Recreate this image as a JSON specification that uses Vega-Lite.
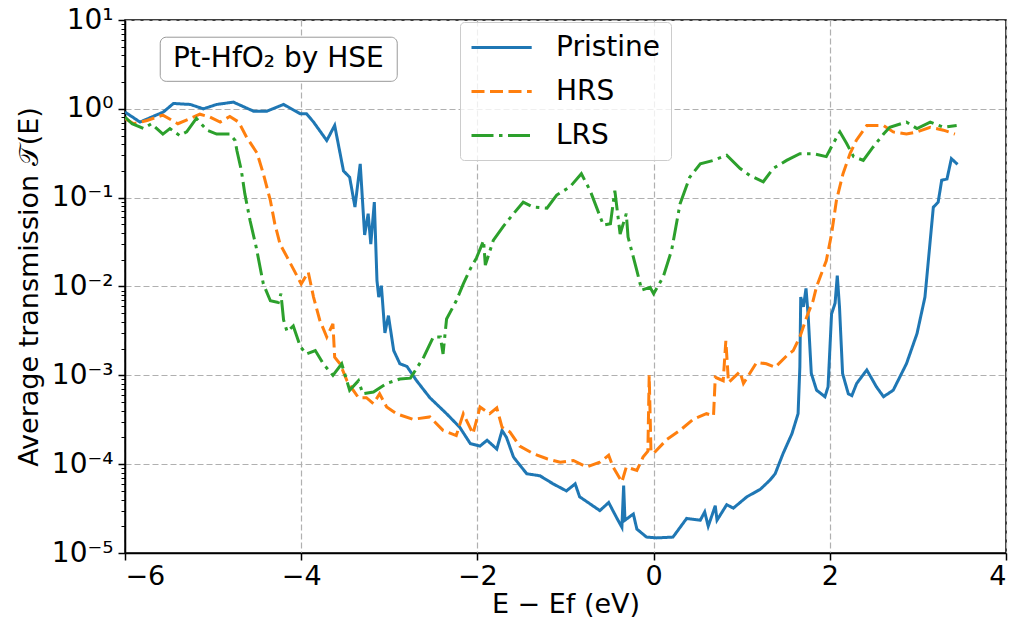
{
"$schema": "https://vega.github.io/schema/vega-lite/v6.json",
"width": 881, "height": 533,
"autosize": "none",
"padding": {"left": 125, "top": 20, "right": 8, "bottom": 74},
"background": "white",
"config": {"font": "DejaVu Sans", "view": {"stroke": "black", "strokeWidth": 1.5}},
"layer": [
{
"data": {"values": [
{"s":"Pristine","x":-6.0,"t":0.92},{"s":"Pristine","x":-5.83,"t":0.71},{"s":"Pristine","x":-5.565,"t":0.92},{"s":"Pristine","x":-5.45,"t":1.15},{"s":"Pristine","x":-5.26,"t":1.12},{"s":"Pristine","x":-5.11,"t":1.0},{"s":"Pristine","x":-4.96,"t":1.12},{"s":"Pristine","x":-4.77,"t":1.19},{"s":"Pristine","x":-4.54,"t":0.94},{"s":"Pristine","x":-4.39,"t":0.94},{"s":"Pristine","x":-4.2,"t":1.12},{"s":"Pristine","x":-4.01,"t":0.88},{"s":"Pristine","x":-3.94,"t":0.88},{"s":"Pristine","x":-3.86,"t":0.71},{"s":"Pristine","x":-3.71,"t":0.44},{"s":"Pristine","x":-3.62,"t":0.65},{"s":"Pristine","x":-3.52,"t":0.2},{"s":"Pristine","x":-3.45,"t":0.17},{"s":"Pristine","x":-3.39,"t":0.0785},{"s":"Pristine","x":-3.33,"t":0.24},{"s":"Pristine","x":-3.28,"t":0.038},{"s":"Pristine","x":-3.24,"t":0.066},{"s":"Pristine","x":-3.21,"t":0.03},{"s":"Pristine","x":-3.17,"t":0.089},{"s":"Pristine","x":-3.14,"t":0.0117},{"s":"Pristine","x":-3.12,"t":0.0076},{"s":"Pristine","x":-3.09,"t":0.0102},{"s":"Pristine","x":-3.05,"t":0.003},{"s":"Pristine","x":-3.01,"t":0.0047},{"s":"Pristine","x":-2.95,"t":0.0019},{"s":"Pristine","x":-2.88,"t":0.00135},{"s":"Pristine","x":-2.8,"t":0.00126},{"s":"Pristine","x":-2.69,"t":8.7e-4},{"s":"Pristine","x":-2.54,"t":5.6e-4},{"s":"Pristine","x":-2.35,"t":3.7e-4},{"s":"Pristine","x":-2.2,"t":2.6e-4},{"s":"Pristine","x":-2.08,"t":1.7e-4},{"s":"Pristine","x":-1.97,"t":1.6e-4},{"s":"Pristine","x":-1.89,"t":1.86e-4},{"s":"Pristine","x":-1.78,"t":1.48e-4},{"s":"Pristine","x":-1.72,"t":2.4e-4},{"s":"Pristine","x":-1.67,"t":2.0e-4},{"s":"Pristine","x":-1.59,"t":1.2e-4},{"s":"Pristine","x":-1.44,"t":7.8e-5},{"s":"Pristine","x":-1.29,"t":7.4e-5},{"s":"Pristine","x":-1.14,"t":6.0e-5},{"s":"Pristine","x":-0.99,"t":5.0e-5},{"s":"Pristine","x":-0.89,"t":6.0e-5},{"s":"Pristine","x":-0.84,"t":4.3e-5},{"s":"Pristine","x":-0.61,"t":3.0e-5},{"s":"Pristine","x":-0.51,"t":3.7e-5},{"s":"Pristine","x":-0.42,"t":2.5e-5},{"s":"Pristine","x":-0.36,"t":1.95e-5},{"s":"Pristine","x":-0.34,"t":5.75e-5},{"s":"Pristine","x":-0.325,"t":2.34e-5},{"s":"Pristine","x":-0.23,"t":2.75e-5},{"s":"Pristine","x":-0.19,"t":1.86e-5},{"s":"Pristine","x":-0.08,"t":1.51e-5},{"s":"Pristine","x":0.035,"t":1.48e-5},{"s":"Pristine","x":0.22,"t":1.51e-5},{"s":"Pristine","x":0.375,"t":2.45e-5},{"s":"Pristine","x":0.53,"t":2.34e-5},{"s":"Pristine","x":0.58,"t":2.9e-5},{"s":"Pristine","x":0.62,"t":2.0e-5},{"s":"Pristine","x":0.7,"t":3.4e-5},{"s":"Pristine","x":0.72,"t":2.34e-5},{"s":"Pristine","x":0.83,"t":3.5e-5},{"s":"Pristine","x":0.905,"t":3.2e-5},{"s":"Pristine","x":1.06,"t":4.3e-5},{"s":"Pristine","x":1.21,"t":5.2e-5},{"s":"Pristine","x":1.32,"t":6.6e-5},{"s":"Pristine","x":1.38,"t":7.8e-5},{"s":"Pristine","x":1.47,"t":1.32e-4},{"s":"Pristine","x":1.57,"t":2.2e-4},{"s":"Pristine","x":1.64,"t":3.7e-4},{"s":"Pristine","x":1.66,"t":1.23e-3},{"s":"Pristine","x":1.67,"t":7.6e-3},{"s":"Pristine","x":1.7,"t":5.9e-3},{"s":"Pristine","x":1.73,"t":9.5e-3},{"s":"Pristine","x":1.755,"t":4.6e-3},{"s":"Pristine","x":1.79,"t":1.05e-3},{"s":"Pristine","x":1.85,"t":6.8e-4},{"s":"Pristine","x":1.945,"t":5.75e-4},{"s":"Pristine","x":1.98,"t":7.4e-4},{"s":"Pristine","x":2.02,"t":4.9e-3},{"s":"Pristine","x":2.06,"t":6.5e-3},{"s":"Pristine","x":2.085,"t":1.33e-2},{"s":"Pristine","x":2.11,"t":5.9e-3},{"s":"Pristine","x":2.145,"t":1.05e-3},{"s":"Pristine","x":2.21,"t":6.2e-4},{"s":"Pristine","x":2.25,"t":5.9e-4},{"s":"Pristine","x":2.305,"t":8.1e-4},{"s":"Pristine","x":2.42,"t":1.15e-3},{"s":"Pristine","x":2.53,"t":7.4e-4},{"s":"Pristine","x":2.61,"t":5.75e-4},{"s":"Pristine","x":2.72,"t":6.8e-4},{"s":"Pristine","x":2.87,"t":1.35e-3},{"s":"Pristine","x":2.99,"t":2.95e-3},{"s":"Pristine","x":3.08,"t":7.6e-3},{"s":"Pristine","x":3.14,"t":3.3e-2},{"s":"Pristine","x":3.175,"t":7.8e-2},{"s":"Pristine","x":3.23,"t":8.9e-2},{"s":"Pristine","x":3.27,"t":0.157},{"s":"Pristine","x":3.33,"t":0.162},{"s":"Pristine","x":3.38,"t":0.275},{"s":"Pristine","x":3.45,"t":0.237},
{"s":"HRS","x":-6.0,"t":0.78},{"s":"HRS","x":-5.9,"t":0.68},{"s":"HRS","x":-5.75,"t":0.74},{"s":"HRS","x":-5.57,"t":0.85},{"s":"HRS","x":-5.4,"t":0.68},{"s":"HRS","x":-5.26,"t":0.78},{"s":"HRS","x":-5.15,"t":0.87},{"s":"HRS","x":-5.04,"t":0.81},{"s":"HRS","x":-4.92,"t":0.71},{"s":"HRS","x":-4.81,"t":0.82},{"s":"HRS","x":-4.71,"t":0.71},{"s":"HRS","x":-4.62,"t":0.48},{"s":"HRS","x":-4.5,"t":0.316},{"s":"HRS","x":-4.43,"t":0.186},{"s":"HRS","x":-4.35,"t":0.093},{"s":"HRS","x":-4.3,"t":0.051},{"s":"HRS","x":-4.24,"t":0.03},{"s":"HRS","x":-4.16,"t":0.0214},{"s":"HRS","x":-4.05,"t":0.0133},{"s":"HRS","x":-4.0,"t":0.0107},{"s":"HRS","x":-3.92,"t":0.0145},{"s":"HRS","x":-3.86,"t":0.0076},{"s":"HRS","x":-3.79,"t":0.0042},{"s":"HRS","x":-3.71,"t":0.0027},{"s":"HRS","x":-3.64,"t":0.0038},{"s":"HRS","x":-3.62,"t":0.0016},{"s":"HRS","x":-3.56,"t":0.00135},{"s":"HRS","x":-3.48,"t":8.7e-4},{"s":"HRS","x":-3.41,"t":6.8e-4},{"s":"HRS","x":-3.35,"t":5.6e-4},{"s":"HRS","x":-3.26,"t":5.6e-4},{"s":"HRS","x":-3.18,"t":4.8e-4},{"s":"HRS","x":-3.11,"t":6.2e-4},{"s":"HRS","x":-3.03,"t":4.4e-4},{"s":"HRS","x":-2.92,"t":3.7e-4},{"s":"HRS","x":-2.73,"t":3.2e-4},{"s":"HRS","x":-2.54,"t":3.4e-4},{"s":"HRS","x":-2.39,"t":2.4e-4},{"s":"HRS","x":-2.24,"t":2.1e-4},{"s":"HRS","x":-2.16,"t":3.7e-4},{"s":"HRS","x":-2.05,"t":2.2e-4},{"s":"HRS","x":-1.97,"t":4.4e-4},{"s":"HRS","x":-1.86,"t":3.7e-4},{"s":"HRS","x":-1.78,"t":4.3e-4},{"s":"HRS","x":-1.72,"t":2.6e-4},{"s":"HRS","x":-1.63,"t":2.3e-4},{"s":"HRS","x":-1.52,"t":1.6e-4},{"s":"HRS","x":-1.37,"t":1.32e-4},{"s":"HRS","x":-1.21,"t":1.15e-4},{"s":"HRS","x":-1.06,"t":1.05e-4},{"s":"HRS","x":-0.91,"t":1.1e-4},{"s":"HRS","x":-0.76,"t":9.3e-5},{"s":"HRS","x":-0.61,"t":1.05e-4},{"s":"HRS","x":-0.51,"t":1.26e-4},{"s":"HRS","x":-0.46,"t":9.3e-5},{"s":"HRS","x":-0.36,"t":6.3e-5},{"s":"HRS","x":-0.31,"t":9.3e-5},{"s":"HRS","x":-0.19,"t":8.5e-5},{"s":"HRS","x":-0.12,"t":1.2e-4},{"s":"HRS","x":-0.065,"t":1.4e-4},{"s":"HRS","x":-0.05,"t":1.0e-3},{"s":"HRS","x":-0.03,"t":1.4e-4},{"s":"HRS","x":0.0,"t":1.32e-4},{"s":"HRS","x":0.15,"t":1.9e-4},{"s":"HRS","x":0.3,"t":2.4e-4},{"s":"HRS","x":0.45,"t":3.2e-4},{"s":"HRS","x":0.6,"t":3.7e-4},{"s":"HRS","x":0.68,"t":3.5e-4},{"s":"HRS","x":0.7,"t":9.5e-4},{"s":"HRS","x":0.79,"t":8.7e-4},{"s":"HRS","x":0.82,"t":2.45e-3},{"s":"HRS","x":0.85,"t":8.3e-4},{"s":"HRS","x":0.98,"t":1.1e-3},{"s":"HRS","x":1.02,"t":8.1e-4},{"s":"HRS","x":1.17,"t":1.4e-3},{"s":"HRS","x":1.28,"t":1.35e-3},{"s":"HRS","x":1.38,"t":1.23e-3},{"s":"HRS","x":1.51,"t":1.66e-3},{"s":"HRS","x":1.585,"t":1.9e-3},{"s":"HRS","x":1.66,"t":2.7e-3},{"s":"HRS","x":1.74,"t":4.6e-3},{"s":"HRS","x":1.81,"t":6.9e-3},{"s":"HRS","x":1.85,"t":1.0e-2},{"s":"HRS","x":1.96,"t":1.95e-2},{"s":"HRS","x":2.02,"t":3.9e-2},{"s":"HRS","x":2.075,"t":9.3e-2},{"s":"HRS","x":2.15,"t":0.186},{"s":"HRS","x":2.23,"t":0.313},{"s":"HRS","x":2.3,"t":0.44},{"s":"HRS","x":2.42,"t":0.65},{"s":"HRS","x":2.61,"t":0.65},{"s":"HRS","x":2.72,"t":0.55},{"s":"HRS","x":2.87,"t":0.52},{"s":"HRS","x":2.99,"t":0.55},{"s":"HRS","x":3.14,"t":0.62},{"s":"HRS","x":3.29,"t":0.575},{"s":"HRS","x":3.42,"t":0.52},
{"s":"LRS","x":-6.0,"t":0.81},{"s":"LRS","x":-5.92,"t":0.68},{"s":"LRS","x":-5.79,"t":0.6},{"s":"LRS","x":-5.7,"t":0.68},{"s":"LRS","x":-5.57,"t":0.52},{"s":"LRS","x":-5.49,"t":0.6},{"s":"LRS","x":-5.38,"t":0.5},{"s":"LRS","x":-5.3,"t":0.55},{"s":"LRS","x":-5.19,"t":0.78},{"s":"LRS","x":-5.07,"t":0.575},{"s":"LRS","x":-4.96,"t":0.52},{"s":"LRS","x":-4.81,"t":0.52},{"s":"LRS","x":-4.75,"t":0.44},{"s":"LRS","x":-4.73,"t":0.34},{"s":"LRS","x":-4.68,"t":0.204},{"s":"LRS","x":-4.64,"t":0.111},{"s":"LRS","x":-4.58,"t":0.055},{"s":"LRS","x":-4.51,"t":0.0275},{"s":"LRS","x":-4.43,"t":0.0107},{"s":"LRS","x":-4.35,"t":0.0069},{"s":"LRS","x":-4.26,"t":0.0066},{"s":"LRS","x":-4.23,"t":0.0083},{"s":"LRS","x":-4.2,"t":0.0042},{"s":"LRS","x":-4.16,"t":0.0031},{"s":"LRS","x":-4.09,"t":0.0036},{"s":"LRS","x":-4.01,"t":0.0021},{"s":"LRS","x":-3.94,"t":0.00174},{"s":"LRS","x":-3.84,"t":0.0019},{"s":"LRS","x":-3.75,"t":0.00135},{"s":"LRS","x":-3.64,"t":0.001},{"s":"LRS","x":-3.54,"t":0.00135},{"s":"LRS","x":-3.45,"t":6.8e-4},{"s":"LRS","x":-3.35,"t":8.7e-4},{"s":"LRS","x":-3.3,"t":6.2e-4},{"s":"LRS","x":-3.18,"t":6.5e-4},{"s":"LRS","x":-3.03,"t":8.1e-4},{"s":"LRS","x":-2.88,"t":9.1e-4},{"s":"LRS","x":-2.76,"t":9.3e-4},{"s":"LRS","x":-2.61,"t":1.6e-3},{"s":"LRS","x":-2.5,"t":2.7e-3},{"s":"LRS","x":-2.42,"t":2.7e-3},{"s":"LRS","x":-2.39,"t":1.74e-3},{"s":"LRS","x":-2.35,"t":4.3e-3},{"s":"LRS","x":-2.24,"t":6.9e-3},{"s":"LRS","x":-2.16,"t":1.07e-2},{"s":"LRS","x":-2.08,"t":1.58e-2},{"s":"LRS","x":-2.01,"t":2.1e-2},{"s":"LRS","x":-1.93,"t":3.3e-2},{"s":"LRS","x":-1.91,"t":1.74e-2},{"s":"LRS","x":-1.82,"t":3.3e-2},{"s":"LRS","x":-1.71,"t":4.7e-2},{"s":"LRS","x":-1.59,"t":6.6e-2},{"s":"LRS","x":-1.48,"t":8.9e-2},{"s":"LRS","x":-1.37,"t":7.85e-2},{"s":"LRS","x":-1.21,"t":7.6e-2},{"s":"LRS","x":-1.1,"t":0.107},{"s":"LRS","x":-0.95,"t":0.132},{"s":"LRS","x":-0.82,"t":0.186},{"s":"LRS","x":-0.72,"t":0.12},{"s":"LRS","x":-0.57,"t":0.049},{"s":"LRS","x":-0.49,"t":0.051},{"s":"LRS","x":-0.44,"t":0.12},{"s":"LRS","x":-0.38,"t":0.039},{"s":"LRS","x":-0.31,"t":0.066},{"s":"LRS","x":-0.29,"t":0.036},{"s":"LRS","x":-0.19,"t":0.0151},{"s":"LRS","x":-0.135,"t":0.0091},{"s":"LRS","x":-0.04,"t":0.0098},{"s":"LRS","x":0.0,"t":0.0083},{"s":"LRS","x":0.11,"t":0.0129},{"s":"LRS","x":0.205,"t":0.0257},{"s":"LRS","x":0.3,"t":0.085},{"s":"LRS","x":0.41,"t":0.17},{"s":"LRS","x":0.53,"t":0.24},{"s":"LRS","x":0.68,"t":0.263},{"s":"LRS","x":0.83,"t":0.3},{"s":"LRS","x":0.98,"t":0.214},{"s":"LRS","x":1.09,"t":0.178},{"s":"LRS","x":1.245,"t":0.151},{"s":"LRS","x":1.36,"t":0.214},{"s":"LRS","x":1.51,"t":0.263},{"s":"LRS","x":1.66,"t":0.313},{"s":"LRS","x":1.81,"t":0.313},{"s":"LRS","x":1.96,"t":0.29},{"s":"LRS","x":2.04,"t":0.41},{"s":"LRS","x":2.115,"t":0.55},{"s":"LRS","x":2.19,"t":0.41},{"s":"LRS","x":2.27,"t":0.29},{"s":"LRS","x":2.38,"t":0.263},{"s":"LRS","x":2.49,"t":0.37},{"s":"LRS","x":2.61,"t":0.52},{"s":"LRS","x":2.68,"t":0.62},{"s":"LRS","x":2.87,"t":0.71},{"s":"LRS","x":2.99,"t":0.6},{"s":"LRS","x":3.14,"t":0.71},{"s":"LRS","x":3.29,"t":0.62},{"s":"LRS","x":3.44,"t":0.65}
]},
"mark": {"type": "line", "strokeWidth": 3, "clip": true},
"encoding": {
"x": {"field": "x", "type": "quantitative", "scale": {"domain": [-6, 4], "nice": false, "zero": false},
  "axis": {"values": [-6,-4,-2,0,2,4], "labelExpr": "replace(format(datum.value,'d'),'-','\u2212')", "title": "E \u2212 Ef (eV)",
   "labelFontSize": 27, "titleFontSize": 27, "titleFontWeight": "normal", "labelColor": "black", "titleColor": "black",
   "tickSize": 7, "tickWidth": 1.5, "tickColor": "black", "domainColor": "black", "domainWidth": 1.5, "labelPadding": 3, "titlePadding": 2,
   "grid": true, "gridColor": "#b0b0b0", "gridDash": [6, 3], "gridWidth": 1.2}},
"y": {"field": "t", "type": "quantitative", "scale": {"type": "log", "domain": [1e-5, 10], "nice": false},
  "axis": {"values": [1e-5,2e-5,3e-5,4e-5,5e-5,6e-5,7e-5,8e-5,9e-5,1e-4,2e-4,3e-4,4e-4,5e-4,6e-4,7e-4,8e-4,9e-4,1e-3,2e-3,3e-3,4e-3,5e-3,6e-3,7e-3,8e-3,9e-3,1e-2,2e-2,3e-2,4e-2,5e-2,6e-2,7e-2,8e-2,9e-2,0.1,0.2,0.3,0.4,0.5,0.6,0.7,0.8,0.9,1,2,3,4,5,6,7,8,9,10],
   "labelExpr": "abs(log(datum.value)/LN10 - round(log(datum.value)/LN10)) < 0.01 ? ['10\u207b\u2075','10\u207b\u2074','10\u207b\u00b3','10\u207b\u00b2','10\u207b\u00b9','10\u2070','10\u00b9'][round(log(datum.value)/LN10)+5] : ''",
   "labelOverlap": false, "labelFontSize": 28, "labelColor": "black", "labelPadding": 5,
   "title": "Average transmission \ud835\udcaf(E)", "titleFontSize": 27, "titleFontWeight": "normal", "titleColor": "black", "titlePadding": 8,
   "tickSize": {"condition": {"test": "abs(log(datum.value)/LN10 - round(log(datum.value)/LN10)) < 0.01", "value": 7}, "value": 4},
   "tickWidth": {"condition": {"test": "abs(log(datum.value)/LN10 - round(log(datum.value)/LN10)) < 0.01", "value": 1.5}, "value": 1},
   "tickColor": "black", "domainColor": "black", "domainWidth": 1.5,
   "grid": true, "gridColor": "#b0b0b0", "gridDash": [6, 3], "gridWidth": 1.2,
   "gridOpacity": {"condition": {"test": "abs(log(datum.value)/LN10 - round(log(datum.value)/LN10)) < 0.01", "value": 1}, "value": 0}}},
"color": {"field": "s", "type": "nominal", "scale": {"domain": ["Pristine", "HRS", "LRS"], "range": ["#1f77b4", "#ff7f0e", "#2ca02c"]},
  "legend": {"orient": "none", "legendX": 335, "legendY": 2, "title": null, "labelFontSize": 28, "labelColor": "black",
   "symbolType": "M-1,0H3.3", "symbolSize": 784, "symbolStrokeWidth": 3, "rowPadding": 14, "labelOffset": 55,
   "padding": 10, "strokeColor": "#cccccc", "fillColor": "rgba(255,255,255,0.8)", "cornerRadius": 4}},
"strokeDash": {"field": "s", "type": "nominal", "scale": {"domain": ["Pristine", "HRS", "LRS"], "range": [[1, 0], [13, 5.5], [22, 5.5, 3.5, 5.5]]}, "legend": null},
"order": {"field": "x", "type": "quantitative"}
}
},
{
"data": {"values": [{"label": "Pt-HfO\u2082 by HSE"}]},
"mark": {"type": "rect", "fill": "white", "stroke": "#999999", "strokeWidth": 1, "cornerRadius": 6},
"encoding": {"x": {"datum": -5.6}, "x2": {"datum": -2.91}, "y": {"datum": 2.04}, "y2": {"datum": 6.4}}
},
{
"data": {"values": [{"label": "Pt-HfO\u2082 by HSE"}]},
"mark": {"type": "text", "fontSize": 28, "fill": "black", "fontWeight": "normal", "align": "center", "baseline": "middle"},
"encoding": {"x": {"datum": -4.26}, "y": {"datum": 3.6}, "text": {"field": "label"}}
}
]
}
